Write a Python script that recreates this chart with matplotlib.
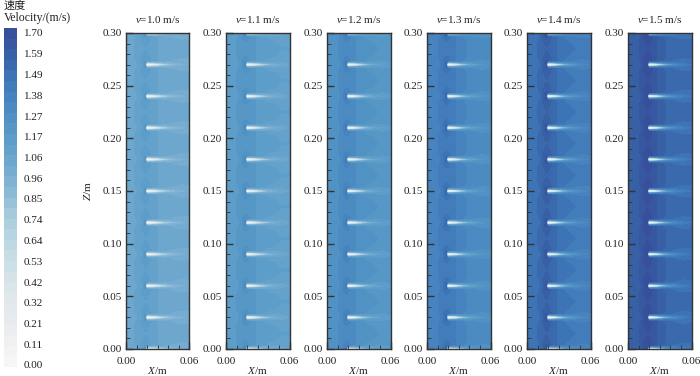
import matplotlib
matplotlib.use('Agg')
import matplotlib.pyplot as plt
from matplotlib.colors import LinearSegmentedColormap, BoundaryNorm
from matplotlib.ticker import MultipleLocator
import numpy as np

plt.rcParams['font.family'] = ['Liberation Serif', 'Noto Sans CJK SC']
plt.rcParams['mathtext.fontset'] = 'custom'
plt.rcParams['mathtext.it'] = 'Liberation Serif:italic'
plt.rcParams['mathtext.rm'] = 'Liberation Serif'

titles = ['1.0', '1.1', '1.2', '1.3', '1.4', '1.5']
panel_speed = [1.05, 1.14, 1.24, 1.34, 1.45, 1.55]
panel_left = [126, 226, 327, 427, 527, 628]

cbar_labels = ['1.70', '1.59', '1.49', '1.38', '1.27', '1.17', '1.06', '0.96', '0.85',
               '0.74', '0.64', '0.53', '0.42', '0.32', '0.21', '0.11', '0.00']
cbar_colors = ['#f7f6f7', '#f0f0f2', '#e8ebee', '#e1e8ec', '#d7e4e9', '#c8dee6', '#b9d7e1',
               '#aacddc', '#91bed7', '#7dafd2', '#69a5cd', '#5a9bc8', '#5091c3', '#4682be',
               '#3c73b4', '#375fa5', '#37509b']

slot_z = [0.00, 0.03, 0.06, 0.09, 0.12, 0.15, 0.18, 0.21, 0.24, 0.27, 0.30]

# repeating cell around one slot, speed relative to the panel speed
cell_x = [0.0, 0.006, 0.011, 0.015, 0.018, 0.0195, 0.022, 0.027, 0.032, 0.038, 0.045, 0.052, 0.06]
cell_dz = [0.0, 0.001, 0.002, 0.004, 0.008, 0.015]
cell_ratio = [
    [1.00, 1.00, 1.01, 1.05, 1.12, 0.02, 0.03, 0.10, 0.35, 0.60, 0.78, 0.88, 0.92],
    [1.00, 1.00, 1.01, 1.05, 1.12, 0.08, 0.15, 0.35, 0.60, 0.78, 0.86, 0.90, 0.93],
    [1.00, 1.00, 1.01, 1.06, 1.13, 0.75, 0.75, 0.80, 0.85, 0.88, 0.90, 0.92, 0.94],
    [1.00, 1.00, 1.02, 1.07, 1.10, 1.10, 1.07, 1.03, 1.00, 0.97, 0.95, 0.94, 0.95],
    [1.00, 1.00, 1.03, 1.06, 1.07, 1.07, 1.06, 1.03, 1.00, 0.99, 0.98, 0.97, 0.97],
    [1.00, 1.00, 1.03, 1.05, 1.06, 1.06, 1.05, 1.03, 1.00, 0.99, 0.99, 0.98, 0.98],
]

W, H = 700, 376
dark = '#333333'


def px_axes(fig, left, top, right, bottom):
    return fig.add_axes([left / W, 1 - bottom / H, (right - left) / W, (bottom - top) / H])


levels = np.linspace(0, 1.7, 33)
cmap = LinearSegmentedColormap.from_list('vel', cbar_colors, N=32)
norm = BoundaryNorm(levels, 32)

# tile the cell over all slots
ratio = np.array(cell_ratio)
zs, rows = [], []
for z0 in slot_z:
    for d, r in zip(cell_dz[::-1], ratio[::-1]):
        if zs and z0 - d <= zs[-1]:
            continue
        zs.append(z0 - d)
        rows.append(r)
    for d, r in zip(cell_dz[1:], ratio[1:]):
        zs.append(z0 + d)
        rows.append(r)
zs = np.array(zs)
rows = np.array(rows)

fig = plt.figure(figsize=(7, 3.76), dpi=100)

for i, left in enumerate(panel_left):
    ax = px_axes(fig, left, 33, left + 63.5, 349)
    ax.contourf(cell_x, zs, rows * panel_speed[i], levels=levels, cmap=cmap, norm=norm, extend='both')
    ax.set_xlim(0, 0.06)
    ax.set_ylim(0, 0.30)
    ax.set_xticks([0.0, 0.06])
    ax.set_xticklabels(['0.00', '0.06'])
    ax.set_yticks([0.0, 0.05, 0.10, 0.15, 0.20, 0.25, 0.30])
    ax.set_yticklabels(['0.00', '0.05', '0.10', '0.15', '0.20', '0.25', '0.30'])
    ax.xaxis.set_minor_locator(MultipleLocator(0.01))
    ax.yaxis.set_minor_locator(MultipleLocator(0.01))
    ax.tick_params(which='major', direction='in', length=5, width=1, color=dark,
                   labelsize=8, labelcolor='#222222', pad=3)
    ax.tick_params(axis='x', which='major', pad=6)
    ax.tick_params(which='minor', direction='in', length=3, width=0.6, color=dark)
    for s in ax.spines.values():
        s.set_linewidth(1)
        s.set_color(dark)
    ax.set_title('$v$=' + titles[i] + ' m/s', fontsize=8, pad=7, color='#222222')
    ax.set_xlabel('$X$/m', fontsize=8, labelpad=-1, color='#222222')
    if i == 0:
        ax.set_ylabel('$Z$/m', fontsize=8, labelpad=7, color='#222222')

cax = px_axes(fig, 4, 28, 17, 367)
cax.pcolormesh([0, 1], levels, levels[:-1].reshape(-1, 1), cmap=cmap, norm=norm)
cax.set_xlim(0, 1)
cax.set_ylim(0, 1.7)
cax.axis('off')

for j, lab in enumerate(cbar_labels):
    fig.text(23.5 / W, 1 - (34 + j * (366 - 34) / 16) / H, lab, fontsize=8, va='center', color='#222222')
fig.text(4 / W, 1 - 6 / H, '速度', fontsize=8, va='center', color='#222222')
fig.text(4 / W, 1 - 18 / H, 'Velocity/(m/s)', fontsize=8.5, va='center', color='#222222')

fig.savefig('out.png', dpi=100)
